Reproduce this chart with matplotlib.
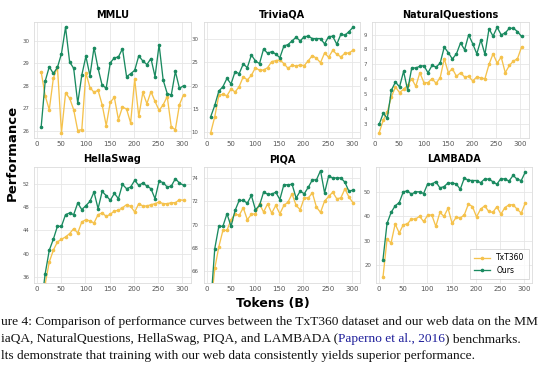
import numpy as np
import matplotlib.pyplot as plt

# Training tokens (B) at each checkpoint
tokens = [8.4, 16.8, 25.2, 33.6, 42.0, 50.4, 58.8, 67.2, 75.6, 84.0, 92.4, 100.8,
          109.2, 117.6, 126.0, 134.4, 142.8, 151.2, 159.6, 168.0, 176.4, 184.8,
          193.2, 201.6, 210.0, 218.4, 226.8, 235.2, 243.6, 252.0, 260.4, 268.8,
          277.2, 285.6, 294.0, 302.4]

# MMLU
mmlu_txt = [28.63, 27.55, 26.93, 28.33, 28.85, 25.9, 27.67, 27.45, 26.93, 26.0, 26.04, 28.58,
            27.92, 27.71, 27.8, 27.15, 26.22, 27.27, 27.48, 26.49, 27.05, 26.96, 26.34, 28.3,
            26.63, 27.7, 27.2, 27.74, 27.3, 26.9, 27.15, 27.52, 26.15, 26.04, 27.15, 27.6]
mmlu_ours = [26.14, 28.21, 28.85, 28.55, 28.82, 29.44, 30.62, 29.07, 28.78, 27.22, 28.48, 29.32,
             28.45, 29.71, 28.78, 28.02, 27.9, 29.03, 29.25, 29.29, 29.66, 28.41, 28.54, 28.69,
             29.34, 29.11, 28.95, 29.22, 28.41, 29.84, 28.26, 27.65, 27.59, 28.64, 27.89, 28.0]

# TriviaQA
tqa_txt = [9.8, 13.26, 17.88, 18.1, 17.8, 19.24, 18.6, 19.75, 21.9, 21.2, 22.2, 23.86,
           23.28, 23.35, 23.86, 25.16, 25.37, 25.52, 24.73, 23.72, 24.37, 24.22, 24.44, 24.3,
           25.37, 26.46, 25.88, 24.94, 27.03, 26.1, 27.6, 26.75, 26.18, 26.96, 27.03, 27.6]
tqa_ours = [13.26, 15.71, 18.8, 19.74, 21.55, 20.33, 23.0, 22.56, 24.65, 23.86, 26.6, 25.3,
            24.73, 27.9, 26.96, 27.32, 26.8, 26.0, 28.55, 28.84, 29.63, 30.43, 29.63, 30.57,
            30.64, 30.14, 30.14, 30.14, 28.99, 30.57, 30.64, 28.92, 31.07, 30.86, 31.65, 32.59]

# NaturalQuestions
nq_txt = [2.42, 3.27, 3.82, 4.82, 5.49, 5.11, 5.33, 5.6, 6.04, 5.53, 6.44, 5.78,
          5.78, 6.04, 5.73, 6.11, 7.38, 6.44, 6.71, 6.2, 6.44, 6.16, 6.2, 5.89,
          6.16, 6.09, 6.04, 7.0, 7.71, 7.09, 7.49, 6.44, 6.93, 7.22, 7.38, 8.16]
nq_ours = [2.98, 3.73, 3.38, 5.27, 5.82, 5.49, 6.53, 5.27, 6.76, 6.76, 6.87, 6.91,
           6.44, 6.93, 6.82, 7.09, 8.16, 7.78, 7.36, 7.71, 8.44, 7.98, 8.98, 8.38,
           7.71, 8.64, 7.67, 9.38, 8.89, 9.49, 8.98, 9.11, 9.42, 9.42, 9.2, 8.87]

# HellaSwag
hs_txt = [28.0, 34.8, 38.58, 40.6, 42.03, 42.49, 42.89, 43.46, 44.32, 43.57, 45.47, 45.87,
          45.64, 45.3, 46.73, 47.02, 46.44, 46.79, 47.36, 47.48, 47.93, 48.45, 48.16, 47.19,
          48.62, 48.22, 48.22, 48.45, 48.62, 48.91, 48.62, 48.62, 48.79, 48.79, 49.3, 49.2]
hs_ours = [31.0, 36.58, 40.6, 42.49, 44.72, 44.72, 46.73, 47.02, 46.73, 48.74, 47.59, 48.28,
           49.02, 50.63, 47.76, 50.74, 50.0, 49.2, 50.4, 49.48, 51.95, 51.2, 51.49, 52.64,
           51.78, 52.18, 51.66, 51.2, 49.48, 52.52, 52.24, 51.49, 51.66, 52.92, 52.18, 51.8]

# PIQA
piqa_txt = [62.8, 66.23, 68.09, 69.51, 69.51, 70.43, 70.94, 70.8, 71.46, 70.43, 70.89, 70.94,
            71.8, 71.09, 71.8, 71.0, 71.66, 70.94, 71.66, 71.94, 72.66, 71.66, 71.29, 72.31,
            72.31, 72.74, 71.51, 71.06, 72.03, 72.43, 72.8, 72.23, 72.31, 73.09, 72.37, 71.89]
piqa_ours = [63.1, 67.94, 69.86, 69.86, 70.94, 69.86, 71.23, 72.09, 72.09, 71.86, 72.52, 71.29,
             71.66, 72.8, 72.63, 72.63, 72.8, 72.17, 73.46, 73.43, 73.49, 72.29, 72.89, 72.66,
             73.23, 73.86, 73.86, 74.66, 72.74, 74.2, 74.03, 74.03, 74.03, 73.66, 72.86, 73.0]

# LAMBADA
lam_txt = [15.0, 30.5, 29.1, 36.8, 33.1, 36.5, 36.8, 38.8, 38.8, 39.9, 37.8, 40.3,
           40.5, 35.8, 41.5, 39.9, 43.2, 37.0, 39.5, 39.2, 40.5, 44.9, 43.9, 39.7,
           42.8, 44.2, 41.9, 41.5, 43.8, 40.8, 43.5, 44.6, 44.6, 42.8, 41.2, 45.4]
lam_ours = [22.2, 37.0, 41.5, 44.2, 45.5, 49.9, 50.3, 48.9, 49.9, 49.9, 49.2, 53.2,
            53.0, 54.05, 51.5, 52.0, 53.5, 53.4, 53.2, 50.9, 55.5, 54.6, 54.5, 54.5,
            53.6, 55.1, 55.1, 54.05, 53.0, 55.3, 55.1, 54.3, 56.6, 55.0, 54.5, 58.0]

YELLOW = '#f5c24c'
GREEN = '#1a8a60'

# name, txt360, ours, y ticks, y limits, axes position
panels = [
    ('MMLU', mmlu_txt, mmlu_ours, [26, 27, 28, 29, 30], None, [0.063, 0.629, 0.290, 0.312]),
    ('TriviaQA', tqa_txt, tqa_ours, [10, 15, 20, 25, 30], None, [0.377, 0.629, 0.290, 0.312]),
    ('NaturalQuestions', nq_txt, nq_ours, [3, 4, 5, 6, 7, 8, 9], None, [0.689, 0.629, 0.290, 0.312]),
    ('HellaSwag', hs_txt, hs_ours, [36, 40, 44, 48, 52], (35, 55), [0.063, 0.240, 0.290, 0.312]),
    ('PIQA', piqa_txt, piqa_ours, [66, 68, 70, 72, 74], (65, 75), [0.377, 0.240, 0.290, 0.312]),
    ('LAMBADA', lam_txt, lam_ours, [20, 30, 40, 50], None, [0.696, 0.240, 0.290, 0.312]),
]

fig = plt.figure(figsize=(5.4, 3.72), dpi=100)

for name, txt, ours, yticks, ylim, pos in panels:
    ax = fig.add_axes(pos)
    ax.plot(tokens, txt, color=YELLOW, lw=0.95, marker='o', ms=1.6, label='TxT360')
    ax.plot(tokens, ours, color=GREEN, lw=0.95, marker='o', ms=1.6, label='Ours')
    if ylim is not None:
        ax.set_ylim(*ylim)
    ax.set_xticks([0, 50, 100, 150, 200, 250, 300])
    ax.set_yticks(yticks)
    ax.set_title(name, fontsize=7, fontweight='bold', pad=3)
    ax.grid(color='#e6e6e6', lw=0.6)
    ax.set_axisbelow(True)
    for sp in ax.spines.values():
        sp.set_color('#dcdcdc')
        sp.set_linewidth(0.6)
    ax.tick_params(axis='x', length=0, pad=2.5, labelsize=5, labelcolor='#555555')
    ax.tick_params(axis='y', length=0, pad=3.5, labelsize=3.9, labelcolor='#555555')
    if name == 'LAMBADA':
        leg = ax.legend(loc='lower right', fontsize=5.5, frameon=True, fancybox=False,
                        handlelength=2.2, borderpad=0.5, labelspacing=0.5)
        leg.get_frame().set_edgecolor('#cccccc')
        leg.get_frame().set_linewidth(0.6)
        cap_ax = ax

# Shared labels
fig.text(0.023, 0.59, 'Performance', rotation=90, ha='center', va='center',
         fontsize=9.5, fontweight='bold')
fig.text(0.505, 0.185, 'Tokens (B)', ha='center', va='center', fontsize=9, fontweight='bold')

# Caption (only the part visible in the cropped screenshot)
cap = dict(fontsize=9.6, family='Liberation Serif', color='#111111')
fig.text(0.002, 0.125, 'ure 4: Comparison of performance curves between the TxT360 dataset '
         'and our web data on the MM', ha='left', va='baseline', **cap)
t1 = fig.text(0.002, 0.08, 'iaQA, NaturalQuestions, HellaSwag, PIQA, and LAMBADA (',
              ha='left', va='baseline', **cap)
t2 = cap_ax.annotate('Paperno et al., 2016', xy=(1, 0), xycoords=t1, va='bottom',
                     fontsize=9.6, family='Liberation Serif', color='#1d1d9a',
                     annotation_clip=False)
cap_ax.annotate(') benchmarks.', xy=(1, 0), xycoords=t2, va='bottom',
                annotation_clip=False, **cap)
fig.text(0.002, 0.035, 'lts demonstrate that training with our web data consistently '
         'yields superior performance.', ha='left', va='baseline', **cap)

fig.savefig('out.png', dpi=100)
plt.close(fig)
